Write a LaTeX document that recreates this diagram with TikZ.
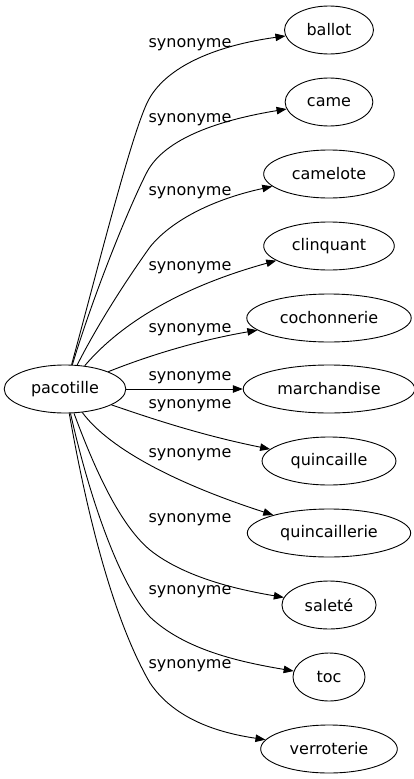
\documentclass[tikz,border=0pt]{standalone}
\usepackage{fontspec}
\setmainfont{DejaVu Sans}
\usetikzlibrary{shapes.geometric,arrows.meta}
\begin{document}
\begin{tikzpicture}[x=1pt,y=-1pt,
    word/.style={draw, line width=0.9pt, ellipse, inner xsep=9pt, minimum height=48pt, minimum width=72pt, font=\fontsize{16}{19}\selectfont},
    rel/.style={inner sep=0pt, font=\fontsize{16}{19}\selectfont},
    link/.style={line width=0.9pt, -{Triangle[length=10pt,width=7.5pt]}}]
    \useasboundingbox (0,0) rectangle (413,779);

    % Nodes
    \node[word] (pacotille) at (65,389) {pacotille};
    \node[word] (ballot) at (329,30) {ballot};
    \node[word] (came) at (329,102) {came};
    \node[word] (camelote) at (329,174) {camelote};
    \node[word] (clinquant) at (329,246) {clinquant};
    \node[word] (cochonnerie) at (329,318) {cochonnerie};
    \node[word] (marchandise) at (329,389) {marchandise};
    \node[word] (quincaille) at (329,461) {quincaille};
    \node[word] (quincaillerie) at (329,533) {quincaillerie};
    \node[word] (salete) at (329,605) {saleté};
    \node[word] (toc) at (329,677) {toc};
    \node[word] (verroterie) at (329,749) {verroterie};

    % Edges
    \draw[link] (pacotille) .. controls (100,260) and (130,140) .. (147,103) .. controls (165,65) and (220,45) .. (ballot);
    \draw[link] (pacotille) .. controls (95,290) and (130,205) .. (147,172) .. controls (165,138) and (220,120) .. (came);
    \draw[link] (pacotille) .. controls (100,320) and (130,275) .. (150,247) .. controls (170,222) and (210,200) .. (camelote);
    \draw[link] (pacotille) .. controls (115,330) and (170,290) .. (clinquant);
    \draw[link] (pacotille) .. controls (150,355) and (200,340) .. (cochonnerie);
    \draw[link] (pacotille) -- (marchandise);
    \draw[link] (pacotille) .. controls (150,418) and (200,435) .. (quincaille);
    \draw[link] (pacotille) .. controls (110,450) and (180,485) .. (quincaillerie);
    \draw[link] (pacotille) .. controls (95,470) and (120,525) .. (150,550) .. controls (185,578) and (240,590) .. (salete);
    \draw[link] (pacotille) .. controls (90,500) and (120,585) .. (150,617) .. controls (185,650) and (240,662) .. (toc);
    \draw[link] (pacotille) .. controls (95,560) and (125,640) .. (150,683) .. controls (175,720) and (220,733) .. (verroterie);

    % Labels
    \node[rel] (l1) at (190,45) {synonyme};
    \node[rel] (l2) at (190,120) {synonyme};
    \node[rel] (l3) at (190,193) {synonyme};
    \node[rel] (l4) at (190,268) {synonyme};
    \node[rel] (l5) at (190,330) {synonyme};
    \node[rel] (l6) at (190,378) {synonyme};
    \node[rel] (l7) at (190,406) {synonyme};
    \node[rel] (l8) at (190,455) {synonyme};
    \node[rel] (l9) at (190,520) {synonyme};
    \node[rel] (l10) at (190,592) {synonyme};
    \node[rel] (l11) at (190,666) {synonyme};
\end{tikzpicture}
\end{document}
